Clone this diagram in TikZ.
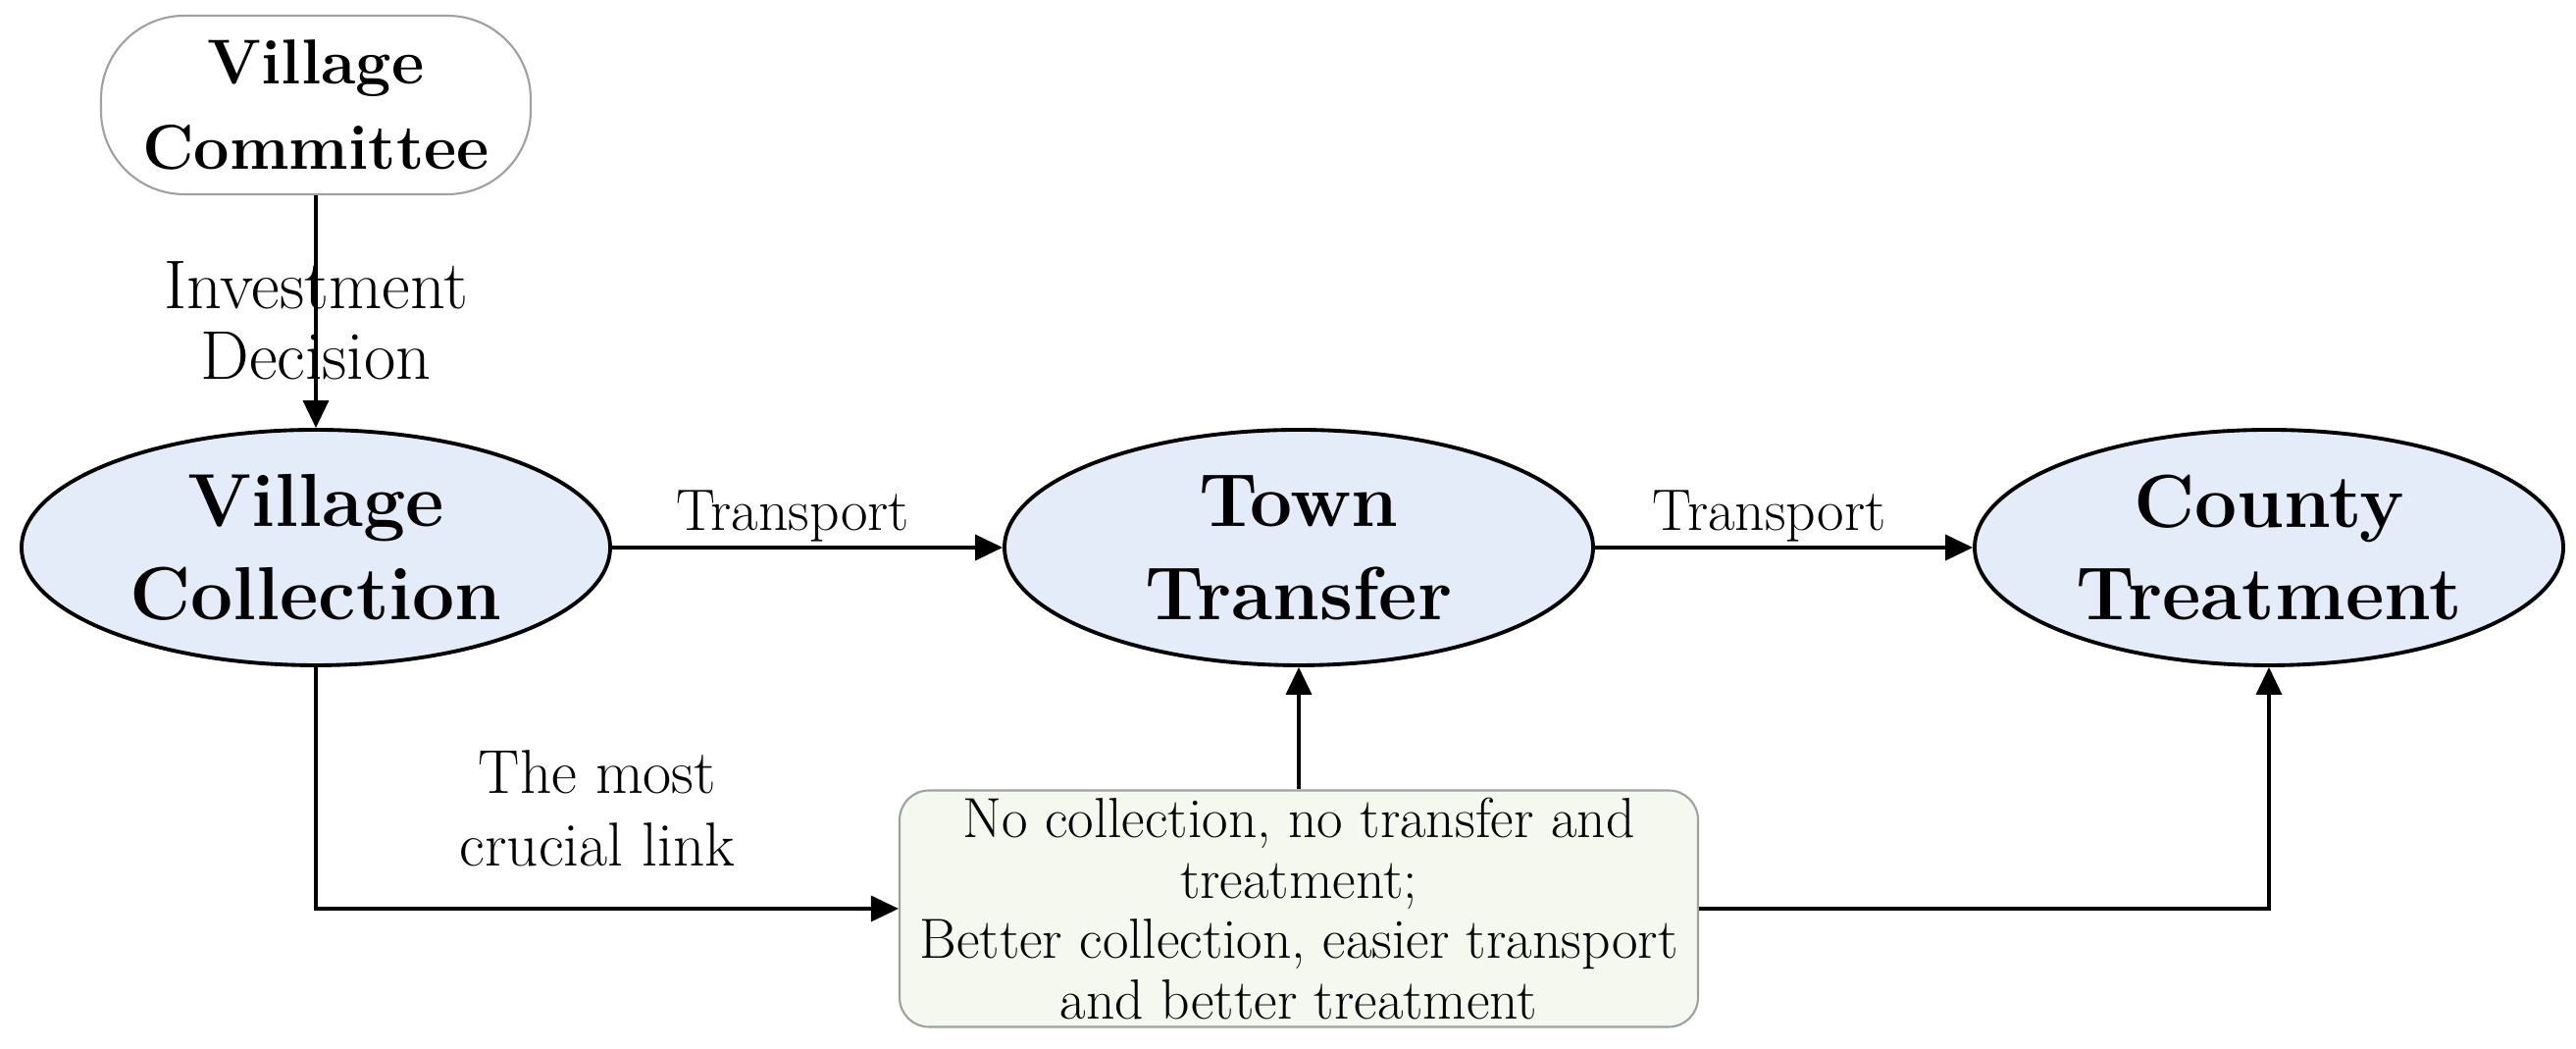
\documentclass[tikz,border=0pt]{standalone}
\usepackage{tikz}
\usetikzlibrary{positioning,shapes.geometric,arrows.meta}

\definecolor{stagefill}{RGB}{227,236,248}
\definecolor{notefill}{RGB}{244,248,239}
\definecolor{edgegray}{RGB}{160,160,160}

\tikzset{
  stage/.style={ellipse, draw, line width=1.1pt, fill=stagefill,
    minimum width=6cm, minimum height=2.4cm, inner sep=0pt, align=center,
    font=\fontsize{21.8}{27}\selectfont\bfseries},
  commbox/.style={rectangle, rounded corners=0.85cm, draw=edgegray, line width=0.6pt,
    minimum width=4.38cm, minimum height=1.82cm, inner sep=0pt, align=center,
    font=\fontsize{18.4}{25}\selectfont\bfseries},
  notebox/.style={rectangle, rounded corners=0.3cm, draw=edgegray, line width=0.6pt,
    fill=notefill, minimum width=8.14cm, minimum height=2.41cm, inner sep=0pt,
    align=center, font=\fontsize{16.4}{17.6}\selectfont},
  flow/.style={-{Triangle[length=0.28cm,width=0.26cm]}, line width=1pt},
  lbl/.style={align=center, font=\fontsize{18}{21}\selectfont},
  biglbl/.style={align=center, font=\fontsize{20}{20.5}\selectfont},
  smalllbl/.style={font=\fontsize{17}{20}\selectfont}
}

\begin{document}
\begin{tikzpicture}

    \useasboundingbox (0,0) rectangle (26.26,10.69);

    % Stages
    \node[commbox] (committee) at (3.22,9.62) {Village\\Committee};
    \node[stage] (collect) at (3.22,5.11) {Village\\Collection};
    \node[stage] (transfer) at (13.24,5.11) {Town\\Transfer};
    \node[stage] (treat) at (23.13,5.11) {County\\Treatment};

    % Note box
    \node[notebox] (note) at (13.24,1.43) {No collection, no transfer and\\treatment;\\Better collection, easier transport\\and better treatment};

    % Arrows
    \draw[flow] (committee) -- node[biglbl, pos=0.54] {Investment\\Decision} (collect);
    \draw[flow] (collect) -- node[smalllbl, above=-0.08cm, xshift=-0.15cm] {Transport} (transfer);
    \draw[flow] (transfer) -- node[smalllbl, above=-0.08cm, xshift=-0.15cm] {Transport} (treat);
    \draw[flow] (collect.south) |- node[lbl, pos=0.75, above=0.3cm, xshift=-0.1cm] {The most\\crucial link} (note.west);
    \draw[flow] (note) -- (transfer);
    \draw[flow] (note.east) -| (treat.south);

\end{tikzpicture}
\end{document}
